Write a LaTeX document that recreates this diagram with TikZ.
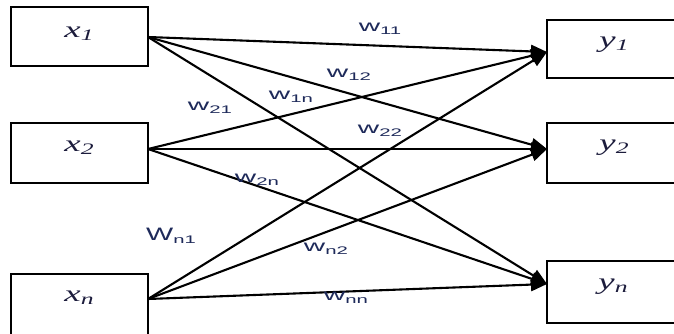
\documentclass[tikz,border=0pt]{standalone}
\usepackage{fontspec}
\usepackage{graphicx}
\setmainfont{Liberation Serif}
\newfontfamily\labfont{Liberation Sans}
\usetikzlibrary{arrows.meta}
\definecolor{labblue}{RGB}{30,42,90}
\definecolor{vardark}{RGB}{28,28,60}
\newcommand\varlab[2]{\scalebox{1.6}[1]{\fontsize{23}{23}\selectfont\itshape #1\raisebox{-3pt}{\fontsize{16}{16}\selectfont #2}}}
\newcommand\wlab[2]{\scalebox{1.85}[1]{\labfont\fontsize{16}{16}\selectfont #1\raisebox{-3pt}{\fontsize{11}{11}\selectfont #2}}}
\newcommand\Wlab[2]{\scalebox{1.6}[1]{\labfont\fontsize{18}{18}\selectfont #1\raisebox{-3pt}{\fontsize{11}{11}\selectfont\scalebox{1.15}[1]{#2}}}}
\tikzset{
  box/.style={draw=black, line width=2.6pt, rectangle, inner sep=0pt},
  var/.style={text=vardark, inner sep=0pt},
  wt/.style={text=labblue, inner sep=0pt},
  conn/.style={line width=2.1pt, -{Triangle[length=16pt,width=13pt]}},
}
\begin{document}
\begin{tikzpicture}[x=1pt,y=-1pt]
\useasboundingbox (0,0) rectangle (674,334);
\clip (0,0) rectangle (674,334);
\fill[white] (0,0) rectangle (674,334);
% input boxes
\node[box, minimum width=137pt, minimum height=59pt] (bx1) at (79.5,36.5) {};
\node[box, minimum width=137pt, minimum height=60pt] (bx2) at (79.5,153) {};
\node[box, minimum width=137pt, minimum height=70pt] (bxn) at (79.5,309) {};
% output boxes
\node[box, minimum width=150pt, minimum height=58pt] (by1) at (622,49) {};
\node[box, minimum width=150pt, minimum height=60pt] (by2) at (622,153) {};
\node[box, minimum width=150pt, minimum height=62pt] (byn) at (622,292) {};
% texts
\node[var] (tx1) at (79,34) {\varlab{x}{1}};
\node[var] (tx2) at (79,148) {\varlab{x}{2}};
\node[var] (txn) at (79,298) {\varlab{x}{n}};
\node[var] (ty1) at (614,45) {\varlab{y}{1}};
\node[var] (ty2) at (614,148) {\varlab{y}{2}};
\node[var] (tyn) at (613,287) {\varlab{y}{n}};
% connection points
\coordinate (p1) at (148,37);
\coordinate (p2) at (148,149);
\coordinate (pn) at (148,299);
\coordinate (q1) at (547,52);
\coordinate (q2) at (547,149);
\coordinate (qn) at (547,284);
% connectors
\foreach \s in {p1,p2,pn} {
  \foreach \t in {q1,q2,qn} {
    \draw[conn] (\s) -- (\t);
  }
}
% weight labels
\node[wt] (w11) at (380,29) {\wlab{w}{11}};
\node[wt] (w12) at (349,75) {\wlab{w}{12}};
\node[wt] (w21) at (210,108) {\wlab{w}{21}};
\node[wt] (w1n) at (291,97) {\wlab{w}{1n}};
\node[wt] (w22) at (380,131) {\wlab{w}{22}};
\node[wt] (w2n) at (257,180) {\wlab{w}{2n}};
\node[wt] (wn1) at (171,236) {\Wlab{W}{n1}};
\node[wt] (wn2) at (326,249) {\wlab{w}{n2}};
\node[wt] (wnn) at (346,298) {\wlab{w}{nn}};
\end{tikzpicture}
\end{document}
